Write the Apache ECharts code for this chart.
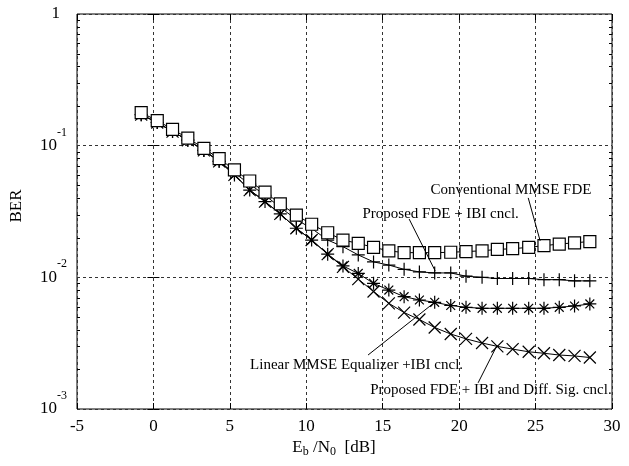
<!DOCTYPE html>
<html>
<head>
<meta charset="UTF-8">
<title>BER vs Eb/N0</title>
<script src="https://cdn.jsdelivr.net/npm/echarts@6/dist/echarts.min.js"></script>
<style>
  html, body { margin: 0; padding: 0; background: #fff; }
  #main { width: 629px; height: 466px; }
</style>
</head>
<body>
<div id="main"></div>
<script>
var FONT = 'Liberation Serif';

// Eb/N0 [dB]
var ebn0 = [-0.8, 0.25, 1.25, 2.25, 3.3, 4.3, 5.3, 6.3, 7.3, 8.3,
            9.35, 10.35, 11.4, 12.4, 13.4, 14.4, 15.4, 16.4, 17.4, 18.4,
            19.45, 20.45, 21.5, 22.5, 23.5, 24.55, 25.55, 26.55, 27.55, 28.55];

// BER per scheme
var conventional = [0.178, 0.155, 0.133, 0.114, 0.0955, 0.0796, 0.0654, 0.0539, 0.0443, 0.0361,
                    0.0297, 0.0253, 0.0218, 0.0192, 0.0181, 0.0169, 0.0159, 0.0154, 0.0154, 0.0154,
                    0.0155, 0.0157, 0.0159, 0.0163, 0.0165, 0.0169, 0.0174, 0.0179, 0.0183, 0.0187];
var proposedIbi = [0.172, 0.150, 0.128, 0.110, 0.092, 0.076, 0.062, 0.051, 0.042, 0.034,
                   0.0275, 0.0235, 0.0192, 0.0171, 0.0148, 0.0131, 0.0124, 0.0115, 0.0110, 0.0108,
                   0.0108, 0.0102, 0.0100, 0.0098, 0.0098, 0.0098, 0.0096, 0.0096, 0.0094, 0.0094];
var linearMmse = [0.172, 0.150, 0.128, 0.110, 0.092, 0.076, 0.060, 0.046, 0.0376, 0.0303,
                  0.0236, 0.0192, 0.0150, 0.0122, 0.0107, 0.0090, 0.0080, 0.00713, 0.00673, 0.00646,
                  0.00611, 0.00592, 0.00582, 0.00582, 0.00582, 0.00582, 0.00582, 0.00592, 0.00606, 0.00628];
var proposedDiff = [0.172, 0.150, 0.128, 0.110, 0.092, 0.076, 0.060, 0.046, 0.0376, 0.0303,
                    0.0236, 0.0192, 0.0150, 0.0120, 0.0097, 0.0078, 0.00635, 0.0054, 0.00478, 0.00416,
                    0.00371, 0.00341, 0.00317, 0.00299, 0.00285, 0.00272, 0.00265, 0.00257, 0.00253, 0.00246];

var xTicks = [-5, 30, 5];          // min, max, interval
var yRange = [0.001, 1];
var minorTicks = [0.002, 0.003, 0.004, 0.005, 0.006, 0.007, 0.008, 0.009,
                  0.02, 0.03, 0.04, 0.05, 0.06, 0.07, 0.08, 0.09,
                  0.2, 0.3, 0.4, 0.5, 0.6, 0.7, 0.8, 0.9];

// annotations: label text + leader line, in data coordinates
var labels = ['Conventional MMSE FDE', 'Proposed FDE + IBI cncl.',
              'Linear MMSE Equalizer +IBI cncl.', 'Proposed FDE + IBI and Diff. Sig. cncl.'];
var labelAt = [[23.39, 0.0461], [18.79, 0.0303], [13.29, 0.00216], [22.08, 0.00139]];
var leaders = [[24.52, 0.0401, 25.30, 0.0189], [16.73, 0.0277, 18.43, 0.0112],
               [14.04, 0.00257, 18.43, 0.0065], [21.24, 0.00158, 22.49, 0.00306]];

function pairs(ys) {
    return ys.map(function (y, i) { return [ebn0[i], y]; });
}

var sym = {
    plus: 'path://M5,0L5,10M0,5L10,5',
    cross: 'path://M0,0L10,10M10,0L0,10',
    star: 'path://M5,0L5,10M0,5L10,5M1.6,1.6L8.4,8.4M8.4,1.6L1.6,8.4'
};

function curve(name, ys, symbol, size, fill) {
    return {
        name: name,
        type: 'line',
        data: pairs(ys),
        symbol: symbol,
        symbolSize: size,
        showAllSymbol: true,
        lineStyle: { color: '#000', width: 1 },
        itemStyle: { color: fill, borderColor: '#000', borderWidth: 1.2 },
        emphasis: { disabled: true }
    };
}

var chart = echarts.init(document.getElementById('main'));

var tickAxisX = {
    type: 'value', min: xTicks[0], max: xTicks[1], interval: xTicks[2]
};

var option = {
    animation: false,
    textStyle: { fontFamily: FONT, color: '#000' },
    grid: {
        left: 77, right: 17, top: 14, bottom: 57,
        show: true, borderColor: '#000', borderWidth: 1,
        outerBoundsMode: 'none'
    },
    xAxis: [
        {
            type: 'value', min: xTicks[0], max: xTicks[1], interval: xTicks[2],
            position: 'bottom',
            axisLine: { show: false },
            axisTick: { inside: true, length: 6, lineStyle: { color: '#000' } },
            axisLabel: { fontFamily: FONT, fontSize: 17, color: '#000', margin: 9 },
            splitLine: { show: true, lineStyle: { color: '#333', type: [3, 3], width: 1 } }
        },
        {
            type: 'value', min: xTicks[0], max: xTicks[1], interval: xTicks[2],
            position: 'top',
            axisLine: { show: false },
            axisTick: { inside: true, length: 6, lineStyle: { color: '#000' } },
            axisLabel: { show: false },
            splitLine: { show: false }
        }
    ],
    yAxis: [
        {
            type: 'log', logBase: 10, min: yRange[0], max: yRange[1],
            position: 'left',
            axisLine: { show: false },
            axisTick: { inside: true, length: 6, lineStyle: { color: '#000' } },
            axisLabel: {
                margin: 10,
                formatter: function (v) {
                    var e = Math.round(Math.log10(v));
                    if (e === 0) return '{one|1}';
                    return '{b|10}{s|' + e + '}';
                },
                rich: {
                    b: { fontFamily: FONT, fontSize: 17, color: '#000' },
                    s: { fontFamily: FONT, fontSize: 12, color: '#000', padding: [0, 0, 26, 0] },
                    one: { fontFamily: FONT, fontSize: 17, color: '#000', padding: [0, 7, 0, 0] }
                }
            },
            splitLine: { show: true, lineStyle: { color: '#333', type: [3, 3], width: 1 } }
        },
        {
            type: 'log', logBase: 10, min: yRange[0], max: yRange[1],
            position: 'right',
            axisLine: { show: false },
            axisTick: { inside: true, length: 6, lineStyle: { color: '#000' } },
            axisLabel: { show: false },
            splitLine: { show: false }
        }
    ],
    series: [
        {
            type: 'custom',
            silent: true,
            data: minorTicks.map(function (v) { return [xTicks[0], v]; }),
            renderItem: function (params, api) {
                var cs = params.coordSys;
                var y = Math.round(api.coord([api.value(0), api.value(1)])[1]) + 0.5;
                return {
                    type: 'group',
                    children: [
                        { type: 'line', shape: { x1: cs.x, y1: y, x2: cs.x + 3, y2: y },
                          style: { stroke: '#000', lineWidth: 1 } },
                        { type: 'line', shape: { x1: cs.x + cs.width, y1: y, x2: cs.x + cs.width - 3, y2: y },
                          style: { stroke: '#000', lineWidth: 1 } }
                    ]
                };
            }
        },
        curve('Proposed FDE + IBI and Diff. Sig. cncl.', proposedDiff, sym.cross, 12, '#000'),
        curve('Linear MMSE Equalizer +IBI cncl.', linearMmse, sym.star, 13, '#000'),
        curve('Proposed FDE + IBI cncl.', proposedIbi, sym.plus, 13, '#000'),
        curve('Conventional MMSE FDE', conventional, 'rect', 12, '#fff')
    ]
};

chart.setOption(option);

// labels and leader lines placed through the axes' scales
var graphics = [];
leaders.forEach(function (l) {
    var a = chart.convertToPixel({ gridIndex: 0 }, [l[0], l[1]]);
    var b = chart.convertToPixel({ gridIndex: 0 }, [l[2], l[3]]);
    graphics.push({
        type: 'line', silent: true, z: 100,
        shape: { x1: a[0], y1: a[1], x2: b[0], y2: b[1] },
        style: { stroke: '#000', lineWidth: 1 }
    });
});
labels.forEach(function (t, i) {
    var p = chart.convertToPixel({ gridIndex: 0 }, labelAt[i]);
    graphics.push({
        type: 'text', silent: true, z: 101, x: p[0], y: p[1],
        style: { text: t, font: '15px "' + FONT + '"', fill: '#000', align: 'center', verticalAlign: 'middle' }
    });
});
// axis titles
graphics.push({
    type: 'text', silent: true, x: 17, y: 206, rotation: Math.PI / 2,
    style: { text: 'BER', font: '17px "' + FONT + '"', fill: '#000', align: 'center', verticalAlign: 'middle' }
});
graphics.push({
    type: 'text', silent: true, x: 334, y: 448,
    style: {
        text: '{n|E}{s|b}{n| /N}{s|0}{n|  [dB]}',
        align: 'center', verticalAlign: 'middle',
        rich: {
            n: { fontFamily: FONT, fontSize: 17, fill: '#000' },
            s: { fontFamily: FONT, fontSize: 12, fill: '#000', padding: [8, 0, 0, 0] }
        }
    }
});
chart.setOption({ graphic: graphics });
</script>
</body>
</html>
